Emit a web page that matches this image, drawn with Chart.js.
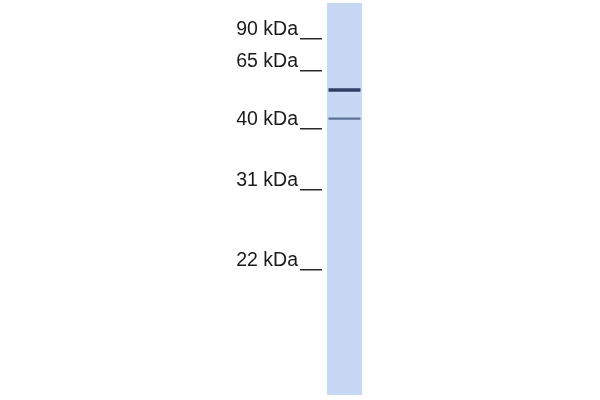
<!DOCTYPE html>
<html lang="en">
<head>
    <meta charset="UTF-8">
    <title>Western Blot</title>
    <script src="https://cdn.jsdelivr.net/npm/chart.js"></script>
    <style>
        body { margin: 0; background: #fff; }
        #wrap { width: 600px; height: 400px; }
    </style>
</head>
<body>
    <div id="wrap"><canvas id="blotChart"></canvas></div>
    <script>
        // relative migration (0 = top of lane, 100 = bottom)
        const markerLabels = ['90 kDa', '65 kDa', '40 kDa', '31 kDa', '22 kDa'];
        const markerPositions = [9.2, 17.3, 32.1, 47.7, 68.1];
        const laneNames = ['Sample'];
        const laneRange = [0, 100];
        const bandPositions = [22.2, 29.5];
        const bandWidths = [0.9, 0.6];
        const bandColors = ['rgba(34,50,88,0.92)', 'rgba(60,80,120,0.75)'];

        const datasets = [{
            label: 'Lane',
            data: [laneRange],
            backgroundColor: 'rgb(199,216,245)',
            barPercentage: 0.78,
            categoryPercentage: 1,
            grouped: false,
            order: 2
        }];
        bandPositions.forEach((pos, i) => {
            datasets.push({
                label: 'Band ' + (i + 1),
                data: [[pos - bandWidths[i] / 2, pos + bandWidths[i] / 2]],
                backgroundColor: bandColors[i],
                barPercentage: 0.71,
                categoryPercentage: 1,
                grouped: false,
                order: 1
            });
        });

        const ctx = document.getElementById('blotChart').getContext('2d');
        new Chart(ctx, {
            type: 'bar',
            data: { labels: laneNames, datasets: datasets },
            options: {
                responsive: true,
                maintainAspectRatio: false,
                animation: false,
                layout: { padding: { top: 3, bottom: 5, left: 0, right: 233 } },
                plugins: {
                    legend: { display: false },
                    tooltip: { enabled: false }
                },
                scales: {
                    x: { display: false },
                    y: {
                        reverse: true,
                        min: 0,
                        max: 100,
                        afterFit: scale => {
                            scale.width = 322;
                            scale.paddingTop = 0;
                            scale.paddingBottom = 0;
                        },
                        afterBuildTicks: scale => {
                            scale.ticks = markerPositions.map(v => ({ value: v }));
                        },
                        border: { display: false },
                        grid: {
                            drawOnChartArea: false,
                            drawTicks: true,
                            tickLength: 22,
                            color: '#2a2a2a',
                            lineWidth: 1.5
                        },
                        ticks: {
                            padding: 2,
                            labelOffset: -9,
                            color: '#1a1a1a',
                            font: { family: 'Liberation Sans, Arial, sans-serif', size: 19.5 },
                            callback: (value, index) => markerLabels[index]
                        }
                    }
                }
            }
        });
    </script>
</body>
</html>
